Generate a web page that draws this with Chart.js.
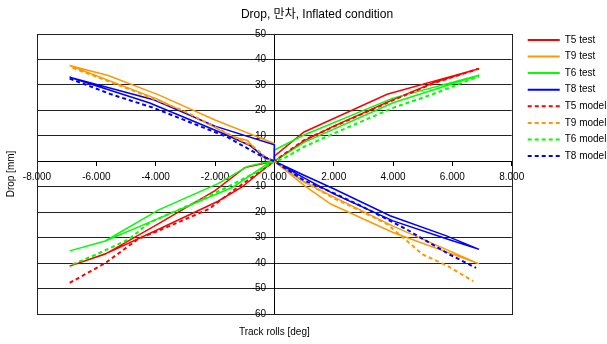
<!DOCTYPE html>
<html>
<head>
<meta charset="utf-8">
<script src="https://cdn.jsdelivr.net/npm/chart.js@4.4.1/dist/chart.umd.min.js"></script>
<style>
  html, body { margin: 0; padding: 0; background: #fff; }
  #wrap { width: 607px; height: 344px; }
</style>
</head>
<body>
<div id="wrap"><canvas id="c" width="607" height="344"></canvas></div>
<script>
// [roll deg, drop mm]; test runs are loops (out and back)
var t5Test = [
  [0, 0], [-0.2, -1.6], [-1.1, -10.2], [-1.9, -15.7], [-3.9, -26.7], [-5.6, -35.9], [-6.9, -41.2],
  [-5.7, -36.5], [-3.9, -24.5], [-2, -11.5], [-1, -2.5], [-0.4, -1], [0, 0],
  [1, 8], [2, 13.8], [4, 24.2], [5.4, 31], [6.9, 36.4],
  [3.8, 26.3], [1, 11.5], [0, 2], [0, 0]
];
var t9Test = [
  [0, 0], [-0.3, 1], [-0.6, 4], [-0.9, 8.2], [-1.4, 9.6], [-2.2, 14.5], [-3.9, 24.2], [-6.9, 37.6],
  [-5.6, 33.7], [-3.9, 26.1], [-2, 16.2], [0, 7], [0, 0],
  [1, -8.2], [2, -14], [4, -25.5], [6.9, -40.3],
  [4, -28], [1.9, -16.8], [1, -9.5], [0, 0]
];
var t6Test = [
  [0, 0], [-0.4, -0.7], [-0.9, -2], [-1.9, -8.8], [-3.9, -19.1], [-5.7, -31.3], [-6.9, -35.2],
  [-5.7, -31.3], [-4.1, -23.4], [-1.4, -10.2], [-0.3, -1.5], [0, 0],
  [1, 7.4], [4, 23], [6.9, 33.8],
  [4, 24.8], [1, 10.3], [0, 4.4], [0, 0]
];
var t8Test = [
  [0, 0], [-0.34, 1.7], [-0.84, 6.3], [-1.75, 11], [-4.2, 22.9], [-6.9, 33],
  [-4.1, 24.3], [-2, 13.8], [0, 6.5], [0, 0],
  [1, -5.5], [2, -10.8], [3.9, -21.4], [5.8, -29.3], [6.9, -34.6],
  [5.9, -30.8], [4, -23.4], [2, -12.8], [1, -6.5], [0, 0]
];
var t5Model = [[-6.9, -47.8], [-5.7, -40], [-4.6, -30.6], [-3.5, -25.3], [-2.2, -18.7], [-1.3, -10.8], [-0.5, -4.2], [0, 0],
  [0.3, 2.6], [1, 8.3], [2, 13.6], [4, 24], [5.4, 30.8], [6.9, 36.4]];
var t9Model = [[-6.8, 36.7], [-5.9, 32.8], [-5, 28.8], [-4, 24.2], [-3, 19.5], [-1.6, 11], [-0.7, 5.7], [-0.3, 1.7], [0, 0],
  [1, -8], [2, -14.5], [3, -20], [3.8, -24.7], [4.4, -30.6], [5, -36.6], [5.85, -41.2], [6.7, -47.1]];
var t6Model = [[-6.8, -40.5], [-6, -36.6], [-4.9, -30.6], [-4.2, -24], [-2.9, -17.4], [-1.6, -10.2], [-0.5, -3.6], [0, 0],
  [0.3, 1], [1, 5.7], [2.1, 11.4], [4, 21], [5.35, 26.4], [6.9, 33.4]];
var t8Model = [[-6.9, 32.5], [-5.5, 26.3], [-4.1, 21.1], [-1.6, 9.6], [-0.5, 2.4], [0, 0],
  [1, -7.5], [2, -12.5], [3, -18], [4.45, -26.7], [5.9, -36.6], [6.8, -41.9]];

var seriesNames = ['T5 test', 'T9 test', 'T6 test', 'T8 test', 'T5 model', 'T9 model', 'T6 model', 'T8 model'];
var seriesData = [t5Test, t9Test, t6Test, t8Test, t5Model, t9Model, t6Model, t8Model];
var seriesColors = ['#ff0000', '#ff9900', '#00ff00', '#0000ff', '#ff0000', '#ff9900', '#00ff00', '#0000ff'];

var xRange = [-8, 8];
var yRange = [-60, 50];

Chart.defaults.font.family = "'Liberation Sans', Arial, 'Noto Sans CJK KR', sans-serif";
Chart.defaults.color = '#000';

var datasets = seriesData.map(function(pts, i) {
  var model = i >= 4;
  return {
    label: seriesNames[i],
    data: pts.map(function(p) { return {x: p[0], y: p[1]}; }),
    showLine: true,
    borderColor: seriesColors[i],
    backgroundColor: seriesColors[i],
    borderWidth: model ? 2 : 1.5,
    borderDash: model ? [4, 3] : [],
    pointRadius: 0,
    pointStyle: 'line',
    tension: 0,
    order: seriesData.length - i
  };
});

// nudge title/legend boxes and frame the plot area
var frame = {
  id: 'frame',
  afterLayout: function(chart) {
    var t = chart.titleBlock;
    t.left += 13.5; t.right += 13.5;
    var l = chart.legend;
    l.left += 9.4; l.right += 9.4;
    l.top -= 5.7; l.bottom -= 5.7;
  },
  beforeDatasetsDraw: function(chart) {
    var a = chart.chartArea, ctx = chart.ctx;
    ctx.save();
    ctx.strokeStyle = '#222';
    ctx.lineWidth = 1;
    ctx.strokeRect(Math.round(a.left) + 0.5, Math.round(a.top) + 0.5,
      Math.round(a.right - a.left), Math.round(a.bottom - a.top));
    ctx.restore();
  }
};

var defaultLabels = Chart.defaults.plugins.legend.labels.generateLabels;

new Chart(document.getElementById('c'), {
  type: 'scatter',
  data: { datasets: datasets },
  plugins: [frame],
  options: {
    responsive: false,
    animation: false,
    layout: { padding: 0 },
    plugins: {
      title: {
        display: true,
        text: 'Drop, 만차, Inflated condition',
        font: { size: 12, weight: 'normal' },
        padding: { top: 7.8, bottom: 11.8 }
      },
      legend: {
        position: 'right',
        align: 'start',
        fullSize: false,
        labels: {
          usePointStyle: true,
          pointStyleWidth: 32,
          font: { size: 10 },
          padding: 6.6,
          sort: function(a, b) { return a.datasetIndex - b.datasetIndex; },
          generateLabels: function(chart) {
            return defaultLabels(chart).map(function(item) {
              var ds = chart.data.datasets[item.datasetIndex];
              item.lineDash = ds.borderDash;
              item.lineWidth = 2;
              item.strokeStyle = ds.borderColor;
              return item;
            });
          }
        }
      },
      tooltip: { enabled: false }
    },
    scales: {
      x: {
        type: 'linear',
        position: { y: 0 },
        min: xRange[0],
        max: xRange[1],
        ticks: {
          stepSize: 2,
          font: { size: 10 },
          padding: 6,
          callback: function(v) { return v.toFixed(3); }
        },
        grid: { drawOnChartArea: false, tickLength: 4, color: '#000' },
        border: { color: '#000', width: 1 }
      },
      y: {
        type: 'linear',
        position: { x: 0 },
        min: yRange[0],
        max: yRange[1],
        ticks: {
          stepSize: 10,
          font: { size: 10 },
          callback: function(v) { return v + '   '; }
        },
        grid: { color: '#222', lineWidth: 1, tickLength: 4 },
        border: { color: '#000', width: 1 }
      },
      xTitle: {
        type: 'linear',
        axis: 'x',
        position: 'bottom',
        ticks: { display: false },
        grid: { display: false, drawTicks: false },
        border: { display: false },
        title: { display: true, text: 'Track rolls [deg]', font: { size: 10 }, padding: { top: 12, bottom: 6 } }
      },
      yTitle: {
        type: 'linear',
        axis: 'y',
        position: 'left',
        ticks: { display: false },
        grid: { display: false, drawTicks: false },
        border: { display: false },
        title: { display: true, text: 'Drop [mm]', font: { size: 10 }, padding: { top: 5.5, bottom: 19.5 } }
      }
    }
  }
});
</script>
</body>
</html>
